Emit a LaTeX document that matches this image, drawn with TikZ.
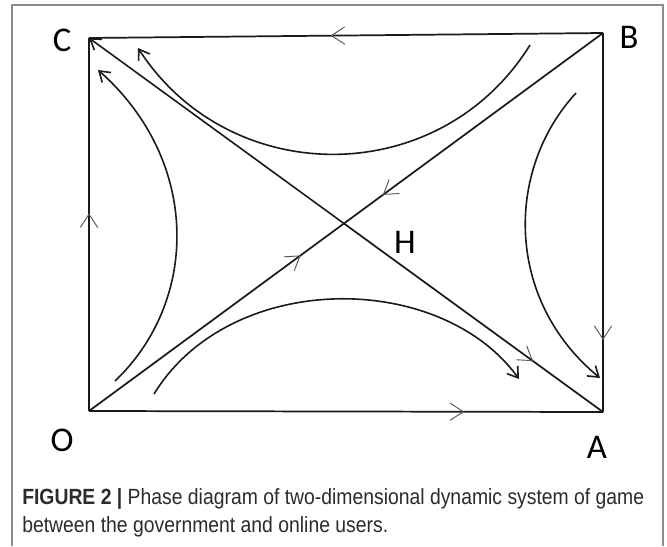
\documentclass[tikz,border=0pt]{standalone}
\usepackage{fontspec}
\usetikzlibrary{arrows.meta,decorations.markings}
\setmainfont{Carlito}
\newfontfamily\capfont[FakeStretch=0.88]{Liberation Sans}
\definecolor{frame}{HTML}{8C8C8C}
\definecolor{ink}{HTML}{1A1A1A}
\definecolor{tick}{HTML}{555555}
\definecolor{captext}{HTML}{2B2B2B}

\begin{document}
\begin{tikzpicture}[x=0.75pt,y=-0.75pt,
  edge/.style={ink,line width=1.3pt},
  flow/.style={ink,line width=1.2pt,-{Straight Barb[length=7.5pt,width=10pt,line width=1.2pt]}},
  midarrow/.style={postaction={decorate,decoration={markings,
    mark=at position #1 with {\arrow{Straight Barb[length=10pt,width=13pt,line width=0.7pt,color=tick]}}}}},
  corner/.style={font=\fontsize{26}{26}\selectfont,inner sep=0pt}]
\useasboundingbox (0,0) rectangle (667,546);
% outer frame of the figure
\draw[frame,line width=0.8pt] (12,546) -- (12,5) -- (663,5) -- (663,546);

% corners of the phase square
\coordinate (O) at (89,411);
\coordinate (A) at (603,412);
\coordinate (B) at (603,33);
\coordinate (C) at (89,38);
\coordinate (S) at (intersection of O--B and C--A);

\node[corner] (lC) at (62,40) {C};
\node[corner] (lB) at (629,37) {B};
\node[corner] (lO) at (62,440) {O};
\node[corner] (lA) at (597,447) {A};
\node[corner] (lH) at (405,242) {H};

% borders
\draw[edge,midarrow=0.73] (O) -- (A);
\draw[edge,midarrow=0.81] (B) -- (A);
\draw[edge,midarrow=0.53] (B) -- (C);
\draw[edge,midarrow=0.53] (O) -- (C);

% saddle lines through S
\draw[edge,midarrow=0.83] (O) -- (S);
\draw[edge,midarrow=0.85] (B) -- (S);
\draw[edge,midarrow=0.73] (S) -- (A);
\draw[flow] (S) -- (C);

% trajectories
\coordinate (t1) at (530,45);   \coordinate (t2) at (138,48);
\coordinate (l1) at (115,381);  \coordinate (l2) at (98,70);
\coordinate (b1) at (154,394);  \coordinate (b2) at (519,379);
\coordinate (r1) at (576,93);   \coordinate (r2) at (600,378);
\draw[flow] (t1) .. controls (440,190) and (230,190) .. (t2);
\draw[flow] (l1) .. controls (200,300) and (200,160) .. (l2);
\draw[flow] (b1) .. controls (230,270) and (440,270) .. (b2);
\draw[flow] (r1) .. controls (505,170) and (505,300) .. (r2);

% caption
\node[anchor=north west,inner sep=0pt,align=left,text=captext,
  font=\capfont\fontsize{16.5}{21}\selectfont] (cap) at (22,488)
  {\textbf{FIGURE 2 |} Phase diagram of two-dimensional dynamic system of game\\
   between the government and online users.};
\end{tikzpicture}
\end{document}
